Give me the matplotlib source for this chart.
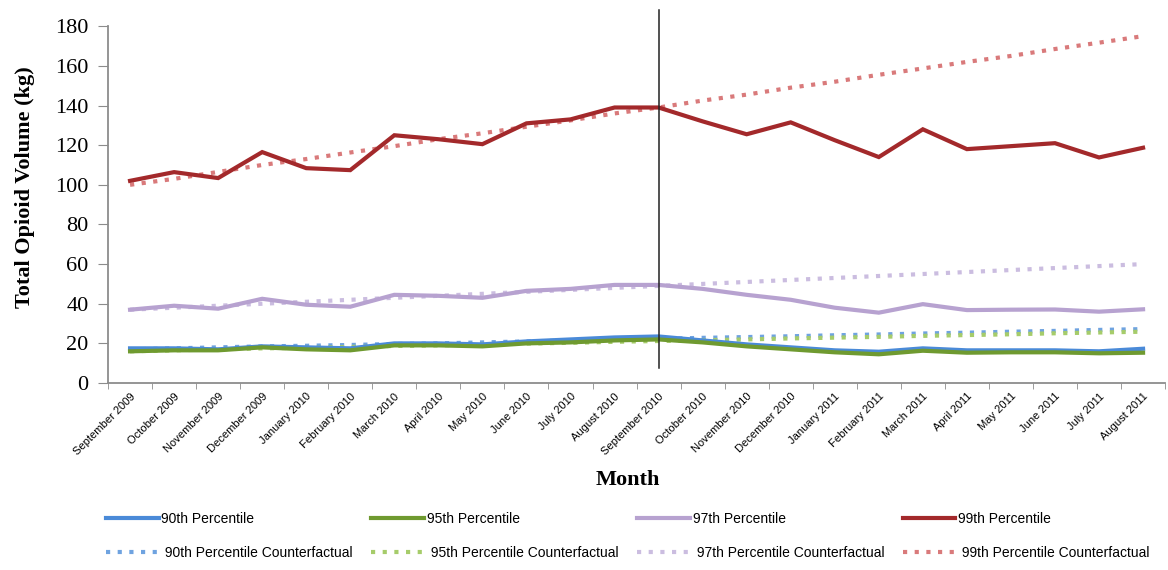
import matplotlib.pyplot as plt

months = ["September 2009", "October 2009", "November 2009", "December 2009",
          "January 2010", "February 2010", "March 2010", "April 2010", "May 2010",
          "June 2010", "July 2010", "August 2010", "September 2010", "October 2010",
          "November 2010", "December 2010", "January 2011", "February 2011",
          "March 2011", "April 2011", "May 2011", "June 2011", "July 2011",
          "August 2011"]

p90 = [17.5, 17.5, 17, 18.5, 18, 17.5, 20, 20, 19.5, 21, 22, 23, 23.5,
       21.5, 19.5, 18, 16.5, 15.8, 17.5, 16.5, 16.5, 16.5, 16, 17.3]
p95 = [16, 16.5, 16.5, 18, 17, 16.5, 19, 19, 18.5, 20, 20.5, 21.5, 22,
       20.5, 18.5, 17, 15.5, 14.5, 16.3, 15.3, 15.5, 15.5, 15, 15.3]
p97 = [37, 39, 37.5, 42.5, 39.5, 38.5, 44.5, 44, 43, 46.5, 47.5, 49.5, 49.5,
       47.5, 44.5, 42, 38, 35.5, 39.8, 36.8, 37, 37.1, 36, 37.2]
p99 = [102, 106.4, 103.4, 116.5, 108.4, 107.4, 125, 123, 120.5, 131, 133, 139, 139,
       132, 125.5, 131.5, 122.5, 114, 128, 118, 119.5, 121, 113.8, 118.7]

p90_cf = [17, 17.5, 18, 18.5, 18.8, 19.2, 19.7, 20, 20.5, 21, 21.5, 21.9, 22.3,
          22.8, 23.2, 23.6, 24.1, 24.5, 25, 25.4, 25.9, 26.3, 26.8, 27.2]
p95_cf = [16, 16.5, 17, 17.5, 17.8, 18.2, 18.7, 19, 19.5, 19.9, 20.3, 20.8, 21.2,
          21.6, 22, 22.5, 22.9, 23.3, 23.8, 24.2, 24.6, 25.1, 25.5, 25.9]
p97_cf = [37, 38, 39, 40, 41, 42, 43, 44, 45, 46, 47, 48, 49,
          50, 51, 52, 53, 54, 55, 56, 57, 58, 59, 60]
p99_cf = [100, 103, 106.5, 110, 113, 116.3, 119.5, 123, 126, 129.3, 132.5, 136, 139,
          142.5, 145.5, 149, 152, 155.5, 158.7, 162, 165, 168.5, 171.7, 175]

intervention = "September 2010"

serif = "Liberation Serif"
narrow = ["Liberation Sans Narrow", "Liberation Sans", "DejaVu Sans"]

fig = plt.figure(figsize=(11.68, 5.70), dpi=100)
ax = fig.add_axes([0.0925, 0.328, 0.905, 0.626])

x = list(range(len(months)))
series = [
    ("90th Percentile", p90, "#4a8ad8", "90th Percentile Counterfactual", p90_cf, "#6fa3e0"),
    ("95th Percentile", p95, "#6f9a30", "95th Percentile Counterfactual", p95_cf, "#a6cc6a"),
    ("97th Percentile", p97, "#b7a2d0", "97th Percentile Counterfactual", p97_cf, "#cbbde0"),
    ("99th Percentile", p99, "#a3292b", "99th Percentile Counterfactual", p99_cf, "#d97a7b"),
]

handles = []
for name, vals, col, cf_name, cf_vals, cf_col in series:
    hc, = ax.plot(x, cf_vals, color=cf_col, lw=3, linestyle=(0, (1, 1.8)),
                  label=" " + cf_name, zorder=2)
    hs, = ax.plot(x, vals, color=col, lw=3, label=name, zorder=3,
                  solid_joinstyle="miter")
    handles += [hs, hc]

xi = months.index(intervention)
ax.axvline(xi, ymin=0.042, ymax=1.045, color="#222222", lw=1.1, clip_on=False, zorder=4)

ax.set_xlim(-0.5, len(months) - 0.5)
ax.set_ylim(0, 180)
ax.set_yticks(range(0, 181, 20))
ax.set_xticks(x)
ax.set_xticklabels(months, rotation=45, ha="right", rotation_mode="anchor",
                   fontsize=8, family=narrow)
ax.set_xticks([i - 0.5 for i in range(len(months) + 1)], minor=True)
ax.tick_params(axis="x", which="major", length=0, pad=6)
ax.tick_params(axis="x", which="minor", length=4, color="#8c8c8c", direction="out")
ax.tick_params(axis="y", length=7, color="#8c8c8c", pad=7, labelsize=16)
for lab in ax.get_yticklabels():
    lab.set_family(serif)

for s in ["top", "right"]:
    ax.spines[s].set_visible(False)
for s in ["left", "bottom"]:
    ax.spines[s].set_color("#8c8c8c")
    ax.spines[s].set_linewidth(1.3)

ax.set_ylabel("Total Opioid Volume (kg)", fontsize=16, fontweight="bold", family=serif)
ax.yaxis.set_label_coords(-0.069, 0.548)
ax.set_xlabel("Month", fontsize=16, fontweight="bold", family=serif)
ax.xaxis.set_label_coords(0.492, -0.245)

leg = fig.legend(handles=handles, ncol=4, loc="lower left",
                 bbox_to_anchor=(0.08, -0.005, 0.915, 0.13), mode="expand",
                 frameon=False, handlelength=3.8, handletextpad=0.2,
                 labelspacing=1.5, prop={"family": narrow, "size": 10})

fig.savefig("out.png", dpi=100)
